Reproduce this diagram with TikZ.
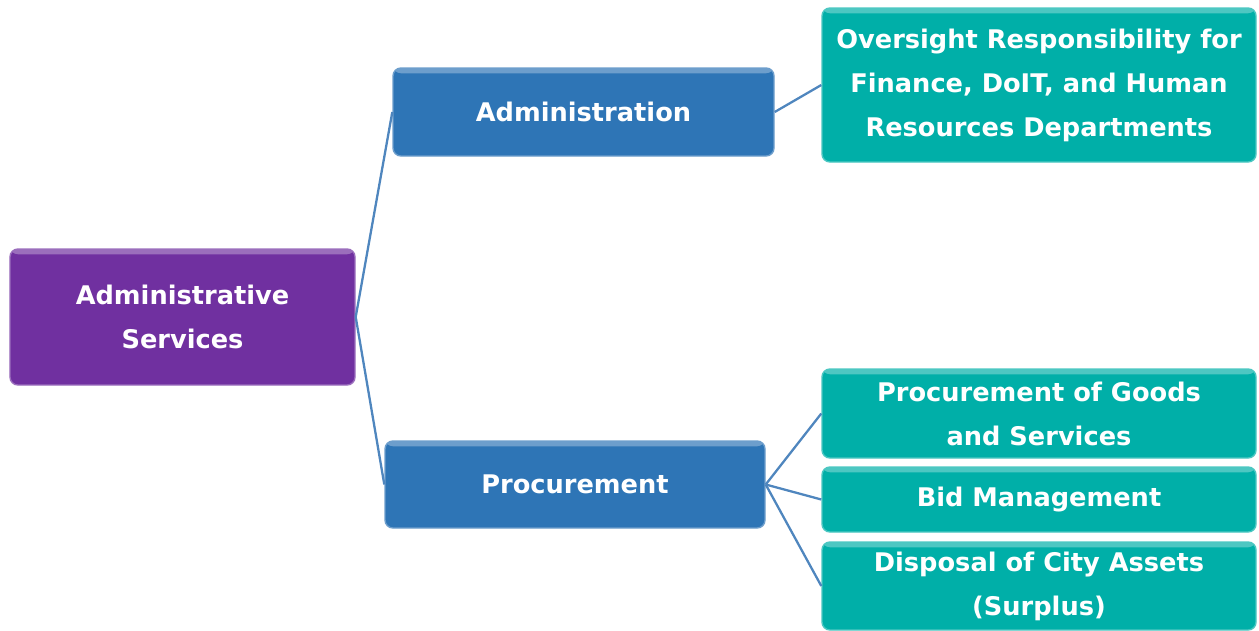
\documentclass[tikz,border=0pt]{standalone}
\usepackage{fontspec}
\setmainfont{DejaVu Sans}
\definecolor{purplebox}{HTML}{7030A0}
\definecolor{bluebox}{HTML}{2E75B6}
\definecolor{tealbox}{HTML}{00AFA8}
\definecolor{linkblue}{HTML}{4F86BE}
\tikzset{
  box/.style={rounded corners=4.5pt, text=white, align=center,
    font=\fontsize{14.6}{25}\selectfont\bfseries, inner sep=0pt,
    path picture={\fill[white,opacity=0.3] (path picture bounding box.north west)
      rectangle ([yshift=-3pt]path picture bounding box.north east);}},
  rootbox/.style={box, fill=purplebox, draw=purplebox!70!white, line width=0.8pt},
  midbox/.style={box, fill=bluebox, draw=bluebox!70!white, line width=0.8pt},
  leafbox/.style={box, fill=tealbox, draw=tealbox!70!white, line width=0.8pt,
    minimum width=8.68cm},
  link/.style={linkblue, line width=1.3pt}
}
\begin{document}
\begin{tikzpicture}
\useasboundingbox (0,0) rectangle (25.18,12.6);
% level 0
\node[rootbox, minimum width=6.9cm, minimum height=2.72cm] (root) at (3.65,6.26) {Administrative\\Services};
% level 1
\node[midbox, minimum width=7.62cm, minimum height=1.76cm] (admin) at (11.67,10.36) {Administration};
\node[midbox, minimum width=7.6cm, minimum height=1.74cm] (proc) at (11.5,2.91) {Procurement};
% level 2
\node[leafbox, minimum height=3.08cm] (oversight) at (20.78,10.9) {Oversight Responsibility for\\Finance, DoIT, and Human\\Resources Departments};
\node[leafbox, minimum height=1.78cm] (goods) at (20.78,4.33) {Procurement of Goods\\and Services};
\node[leafbox, minimum height=1.3cm] (bid) at (20.78,2.61) {Bid Management};
\node[leafbox, minimum height=1.76cm] (disposal) at (20.78,0.88) {Disposal of City Assets\\(Surplus)};
% connectors
\draw[link] (root.east) -- (admin.west);
\draw[link] (root.east) -- (proc.west);
\draw[link] (admin.east) -- (oversight.west);
\draw[link] (proc.east) -- (goods.west);
\draw[link] (proc.east) -- (bid.west);
\draw[link] (proc.east) -- (disposal.west);
\end{tikzpicture}
\end{document}
